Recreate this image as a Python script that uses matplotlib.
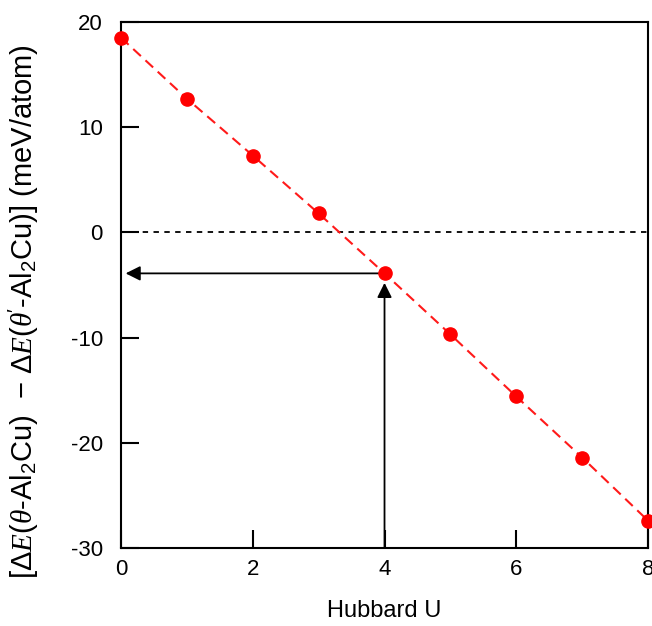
import matplotlib
matplotlib.use("Agg")
import matplotlib.pyplot as plt

hubbard_u = [0, 1, 2, 3, 4, 5, 6, 7, 8]
energy_diff = [18.5, 12.7, 7.3, 1.8, -3.9, -9.7, -15.6, -21.4, -27.4]
x_ticks = [0, 2, 4, 6, 8]
y_ticks = [-30, -20, -10, 0, 10, 20]
y_tick_labels = ['-30', '-20', '-10', '0', '10', '20']
selected_u = 4
selected_e = -3.9

plt.rcParams['font.family'] = ['Liberation Sans', 'DejaVu Sans']
plt.rcParams['mathtext.fontset'] = 'custom'
plt.rcParams['mathtext.rm'] = 'Liberation Sans'
plt.rcParams['mathtext.it'] = 'Liberation Serif:italic'
plt.rcParams['mathtext.bf'] = 'Liberation Sans:bold'

fig = plt.figure(figsize=(6.52, 6.26), dpi=100)
ax = fig.add_axes([0.1856, 0.1246, 0.8083, 0.8404])

ax.axhline(0, color='black', lw=1.3, ls=(0, (3, 3)), zorder=1)
ax.plot(hubbard_u, energy_diff, color='#ff1a1a', ls=(0, (5, 3)), lw=1.5,
        marker='o', markersize=9.5, markerfacecolor='#ff0000',
        markeredgecolor='#ff0000', clip_on=False, zorder=3)

ax.annotate('', xy=(selected_u, selected_e - 0.9), xytext=(selected_u, -30),
            arrowprops=dict(arrowstyle='-|>', color='black', lw=1.3,
                            mutation_scale=22, shrinkA=0, shrinkB=0), zorder=2)
ax.annotate('', xy=(0.07, selected_e), xytext=(selected_u, selected_e),
            arrowprops=dict(arrowstyle='-|>', color='black', lw=1.3,
                            mutation_scale=22, shrinkA=0, shrinkB=0), zorder=2)

ax.set_xlim(0, 8)
ax.set_ylim(-30, 20)
ax.set_xticks(x_ticks)
ax.set_yticks(y_ticks)
ax.set_yticklabels(y_tick_labels)
ax.tick_params(direction='in', length=13, width=1.5, labelsize=16)
ax.tick_params(axis='y', pad=13)
ax.tick_params(axis='x', pad=8)
for s in ax.spines.values():
    s.set_linewidth(1.5)

ax.set_xlabel('Hubbard U', fontsize=17, labelpad=14)
ax.set_ylabel(r'[$\mathit{ΔE}$($\mathit{θ}$-Al$_2$Cu)  $-$ $\mathit{ΔE}$($\mathit{θ}$$^{\prime}$-Al$_2$Cu)] (meV/atom)',
              fontsize=21)
ax.yaxis.set_label_coords(-0.152, 0.449)

fig.savefig('out.png', dpi=100)
